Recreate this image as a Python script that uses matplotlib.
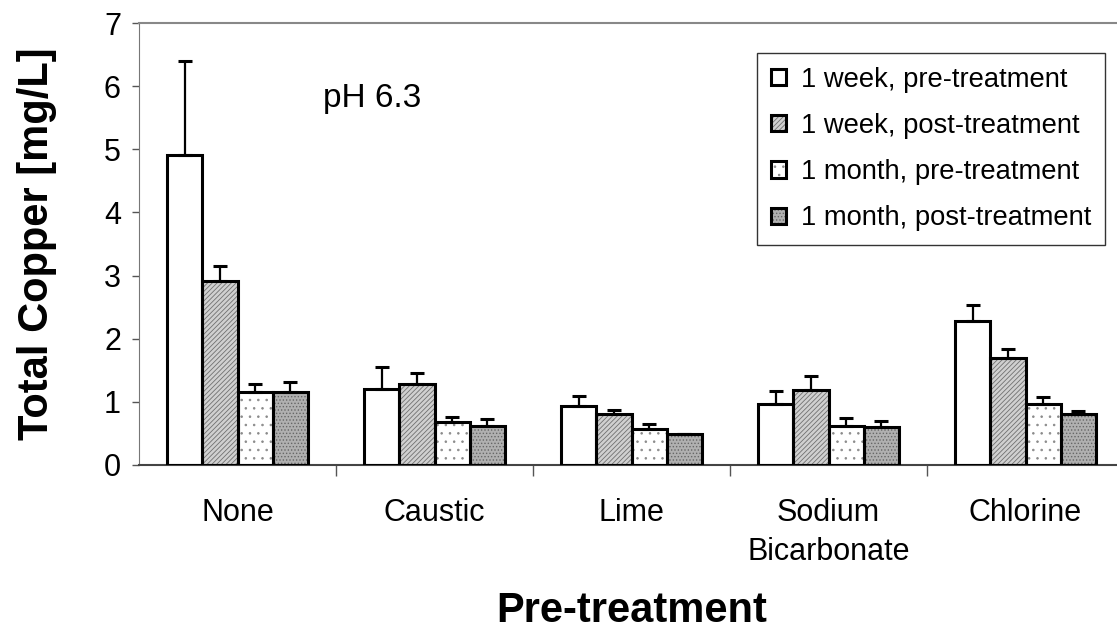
import numpy as np
import matplotlib
matplotlib.use('Agg')
import matplotlib.pyplot as plt
from matplotlib.legend_handler import HandlerTuple

plt.rcParams['font.family'] = ['Liberation Sans', 'DejaVu Sans']
plt.rcParams['hatch.linewidth'] = 0.6

categories = ['None', 'Caustic', 'Lime', 'Sodium\nBicarbonate', 'Chlorine']
series_names = ['1 week, pre-treatment', '1 week, post-treatment',
                '1 month, pre-treatment', '1 month, post-treatment']

week_pre = [4.91, 1.20, 0.93, 0.96, 2.28]
week_pre_err = [1.50, 0.35, 0.16, 0.21, 0.25]
week_post = [2.92, 1.28, 0.80, 1.18, 1.69]
week_post_err = [0.23, 0.17, 0.06, 0.22, 0.15]
month_pre = [1.16, 0.67, 0.56, 0.62, 0.96]
month_pre_err = [0.12, 0.08, 0.09, 0.12, 0.11]
month_post = [1.16, 0.62, 0.48, 0.60, 0.80]
month_post_err = [0.15, 0.10, 0.01, 0.09, 0.05]

values = [week_pre, week_post, month_pre, month_post]
errors = [week_pre_err, week_post_err, month_pre_err, month_post_err]

# fill colour, hatch colour, hatch pattern
styles = [('white', 'white', None),
          ('#d0d0d0', '#707070', '///////'),
          ('white', '#8a8a8a', '..'),
          ('#b0b0b0', '#666666', '.....')]

fig = plt.figure(figsize=(11.17, 6.35), dpi=100)
ax = fig.add_axes([139 / 1117, 1 - 464.7 / 635, 985 / 1117, 441.4 / 635])

x = np.arange(len(categories))
w = 0.178
handles = []
for i, (vals, errs) in enumerate(zip(values, errors)):
    fc, hc, hatch = styles[i]
    pos = x + (i - 1.5) * w
    b1 = ax.bar(pos, vals, w, color=fc, edgecolor=hc, hatch=hatch, linewidth=0, zorder=2)
    b2 = ax.bar(pos, vals, w, fill=False, edgecolor='black', linewidth=2.2, zorder=3)
    ax.errorbar(pos, vals, yerr=[np.zeros(len(vals)), errs], fmt='none',
                ecolor='black', elinewidth=1.6, capsize=5, capthick=2.2, zorder=4)
    handles.append((b1[0], b2[0]))

ax.set_xlim(-0.5, 4.5)
ax.set_ylim(0, 7)
ax.set_yticks(range(8))
ax.set_xticks(x)
ax.set_xticklabels(categories, fontsize=22, linespacing=1.4)
ax.set_xticks(np.arange(0.5, 4.5, 1), minor=True)
ax.tick_params(axis='x', which='major', length=0, pad=24)
ax.tick_params(axis='x', which='minor', length=8, color='#555555', width=1)
ax.tick_params(axis='y', length=5, color='#555555', width=1, labelsize=22, pad=8)

ax.spines['right'].set_visible(False)
ax.spines['left'].set_color('#777777')
ax.spines['top'].set_color('#888888')
ax.spines['top'].set_linewidth(1.5)
ax.spines['bottom'].set_color('#444444')
ax.spines['bottom'].set_linewidth(1.5)

ax.set_ylabel('Total Copper [mg/L]', fontsize=30, fontweight='bold', labelpad=34)
ax.set_xlabel('Pre-treatment', fontsize=30, fontweight='bold', labelpad=17)

ax.text(0.434, 5.67, 'pH 6.3', fontsize=24, ha='left', va='baseline')

leg = fig.legend(handles, series_names, loc='upper left',
                 bbox_to_anchor=(757 / 1117, 1 - 53 / 635),
                 handler_map={tuple: HandlerTuple(ndivide=1)},
                 fontsize=19.7, frameon=True, fancybox=False, framealpha=1,
                 handlelength=0.55, handleheight=0.55, handletextpad=0.55,
                 labelspacing=0.74, borderpad=0.5, borderaxespad=0)
leg.get_frame().set_edgecolor('#333333')
leg.get_frame().set_linewidth(1)

fig.savefig('out.png', dpi=100)
